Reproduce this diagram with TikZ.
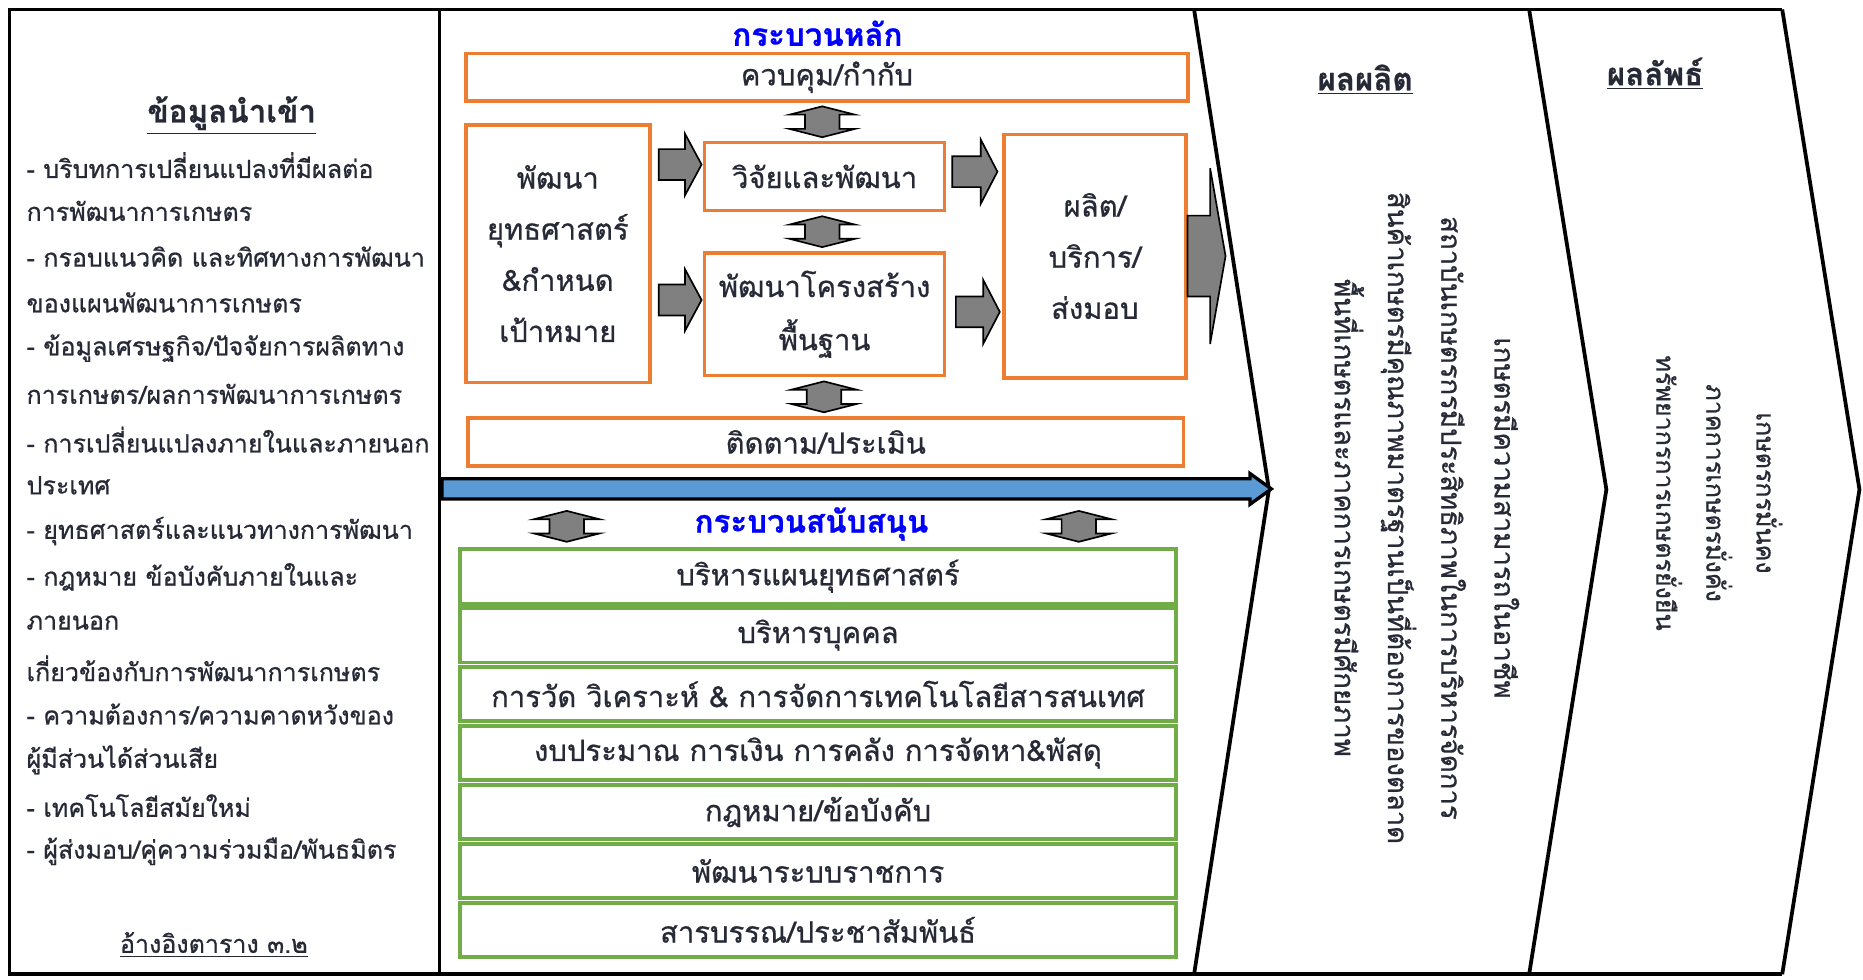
\documentclass[tikz,border=0pt]{standalone}
\usepackage{fontspec}
\setmainfont{Loma}[Script=Thai, FakeBold=0.7]
\usetikzlibrary{calc}
\definecolor{orng}{HTML}{ED7D31}
\definecolor{grn}{HTML}{70AD47}
\definecolor{barblue}{HTML}{5B9BD5}
\definecolor{ttl}{HTML}{0000FF}
\definecolor{ink}{HTML}{262A36}
\definecolor{arrgray}{HTML}{808080}

\tikzset{
  frame/.style={draw=black, line width=1.8pt, line join=miter},
  obox/.style={draw=orng, line width=1.7pt, fill=white, align=center, inner sep=0pt,
    text=ink, font=\fontsize{14}{24.5}\selectfont},
  gbox/.style={draw=grn, line width=1.9pt, fill=white, minimum width=12.06cm,
    minimum height=0.92cm, inner sep=0pt, text=ink, font=\fontsize{14}{17}\selectfont},
  inp/.style={anchor=west, inner sep=0pt, text=ink, font=\fontsize{12}{14}\selectfont},
  hdr/.style={text=ink, font=\bfseries\fontsize{15}{18}\selectfont, inner sep=0pt},
  bluettl/.style={text=ttl, font=\bfseries\fontsize{15}{18}\selectfont, inner sep=0pt},
  vtext/.style={rotate=-90, align=center, inner sep=0pt, text=ink,
    font=\fontsize{13.2}{25.5}\selectfont},
  blk/.style={fill=arrgray, draw=black, line width=0.8pt, line join=miter},
  % block arrow pointing right: length / shaft half-height / head half-height / head length
  pics/rblock/.style args={#1/#2/#3/#4}{code={
    \draw[blk] (0,-#2) -- ({#1-#4},-#2) -- ({#1-#4},-#3) -- (#1,0)
      -- ({#1-#4},#3) -- ({#1-#4},#2) -- (0,#2) -- cycle;}},
  % vertical two-way arrow
  pics/vdbl/.style={code={
    \draw[blk] (0,-13) -- (27.5,-6) -- (14.5,-6) -- (14.5,6) -- (27.5,6) -- (0,13)
      -- (-27.5,6) -- (-14.5,6) -- (-14.5,-6) -- (-27.5,-6) -- cycle;}},
}

\begin{document}
\begin{tikzpicture}[x=0.02cm, y=-0.02cm]
\useasboundingbox (0,0) rectangle (1568,824);
\fill[white] (0,0) rectangle (1568,824);

% ---- outer frame and chevrons ----
\draw[frame] (370,8) -- (8,8) -- (8,820) -- (370,820);
\draw[frame] (370,8) -- (370,820);
\draw[frame] (370,8) -- (1500,8);
\draw[frame] (370,820) -- (1500,820);
\draw[frame] (1005,8) -- (1068,412) -- (1005,820);
\draw[frame] (1287,8) -- (1352,412) -- (1287,820);
\draw[frame] (1500,8) -- (1565,412) -- (1500,820);

% ---- inputs ----
\node[hdr] (inhdr) at (195,97) {\underline{ข้อมูลนำเข้า}};
\foreach \t [count=\i] in {
  - บริบทการเปลี่ยนแปลงที่มีผลต่อ,
  การพัฒนาการเกษตร,
  - กรอบแนวคิด และทิศทางการพัฒนา,
  ของแผนพัฒนาการเกษตร,
  - ข้อมูลเศรษฐกิจ/ปัจจัยการผลิตทาง,
  การเกษตร/ผลการพัฒนาการเกษตร,
  - การเปลี่ยนแปลงภายในและภายนอก,
  ประเทศ,
  - ยุทธศาสตร์และแนวทางการพัฒนา,
  - กฎหมาย ข้อบังคับภายในและ,
  ภายนอก,
  เกี่ยวข้องกับการพัฒนาการเกษตร,
  - ความต้องการ/ความคาดหวังของ,
  ผู้มีส่วนได้ส่วนเสีย,
  - เทคโนโลยีสมัยใหม่,
  - ผู้ส่งมอบ/คู่ความร่วมมือ/พันธมิตร}
  \node[inp] (in\i) at (22,{139+38.5*(\i-1)}) {\t};
\node[inp, anchor=center] (ref) at (180,795) {\underline{อ้างอิงตาราง ๓.๒}};

% ---- main process ----
\node[bluettl] (mainttl) at (688,28) {กระบวนหลัก};
\node[obox, minimum width=12.16cm, minimum height=0.8cm] (ctrl) at (696,65) {ควบคุม/กำกับ};
\node[obox, minimum width=3.1cm, minimum height=4.34cm] (strat) at (469.5,213.5)
  {พัฒนา\\ยุทธศาสตร์\\\&กำหนด\\เป้าหมาย};
\node[obox, minimum width=4.04cm, minimum height=1.14cm] (rd) at (694,148.5) {วิจัยและพัฒนา};
\node[obox, minimum width=4.04cm, minimum height=2.06cm, font=\fontsize{14}{25.5}\selectfont]
  (infra) at (694,264.5) {พัฒนาโครงสร้าง\\พื้นฐาน};
\node[obox, minimum width=3.06cm, minimum height=4.1cm] (prod) at (921.5,215.5)
  {ผลิต/\\บริการ/\\ส่งมอบ};
\node[obox, minimum width=12.04cm, minimum height=0.8cm] (mon) at (695,372) {ติดตาม/ประเมิน};

% block arrows between the boxes
\pic at ($(strat.east |- rd.center)+(6,-10)$) {rblock={36/13/26/14}};
\pic at ($(strat.east |- infra.center)+(6,-12)$) {rblock={36/13/26/14}};
\pic at ($(rd.east)+(5,-4)$) {rblock={38/13/27/14}};
\pic at ($(infra.east)+(8,-2)$) {rblock={37/13/27/14}};
\pic at ($(prod.east |- prod.center)+(0,0)$) {rblock={32/34/74/13}};

% two-way arrows between the stacked boxes
\pic at ($(ctrl.south)!0.5!(rd.north)+(-3,0)$) {vdbl};
\pic at ($(rd.south)!0.5!(infra.north)+(-2,0)$) {vdbl};
\pic at ($(infra.south)!0.5!(mon.north)+(-1,0)$) {vdbl};

% ---- divider arrow ----
\coordinate (bartail) at (372,411.5);
\coordinate (bartip) at (1070,411.5);
\draw[fill=barblue, draw=black, line width=1.6pt, line join=miter]
  ($(bartail)+(0,-8.5)$) -- ($(bartip)+(-18,-8.5)$) -- ($(bartip)+(-18,-13)$) -- (bartip)
  -- ($(bartip)+(-18,13)$) -- ($(bartip)+(-18,8.5)$) -- ($(bartail)+(0,8.5)$) -- cycle;

% ---- support process ----
\node[bluettl] (supttl) at (683,441) {กระบวนสนับสนุน};
\pic at (477,443) {vdbl};
\pic at (908,443) {vdbl};
\foreach \t [count=\i] in {
  บริหารแผนยุทธศาสตร์,
  บริหารบุคคล,
  การวัด วิเคราะห์ \& การจัดการเทคโนโลยีสารสนเทศ,
  งบประมาณ การเงิน การคลัง การจัดหา\&พัสดุ,
  กฎหมาย/ข้อบังคับ,
  พัฒนาระบบราชการ,
  สารบรรณ/ประชาสัมพันธ์}
  \node[gbox] (sup\i) at (688.5,{485+49.6*(\i-1)}) {\t};

% ---- outputs ----
\node[hdr] (outhdr) at (1149,67) {\underline{ผลผลิต}};
\node[vtext] (outs) at (1201,436)
  {เกษตรมีความสามารถในอาชีพ\\
   สถาบันเกษตรกรมีประสิทธิภาพในการบริหารจัดการ\\
   สินค้าเกษตรมีคุณภาพมาตรฐานเป็นที่ต้องการของตลาด\\
   พื้นที่เกษตรและภาคการเกษตรมีศักยภาพ};

% ---- outcomes ----
\node[hdr] (reshdr) at (1393,62) {\underline{ผลลัพธ์}};
\node[vtext, font=\fontsize{12}{24}\selectfont] (res) at (1447,415)
  {เกษตรกรมั่นคง\\ภาคการเกษตรมั่งคั่ง\\ทรัพยากรการเกษตรยั่งยืน};
\end{tikzpicture}
\end{document}
